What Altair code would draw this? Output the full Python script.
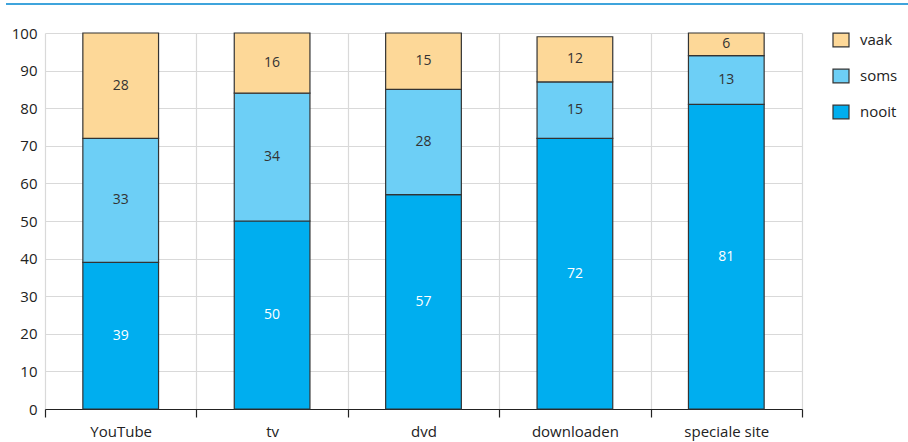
import altair as alt
import pandas as pd

# Survey answers per channel (percentages)
channels = ["YouTube", "tv", "dvd", "downloaden", "speciale site"]
nooit = [39, 50, 57, 72, 81]
soms = [33, 34, 28, 15, 13]
vaak = [28, 16, 15, 12, 6]

answers = ["nooit", "soms", "vaak"]
legend_order = ["vaak", "soms", "nooit"]
colors = {"nooit": "#00AEEF", "soms": "#6DCFF6", "vaak": "#FDD898"}
text_colors = {"nooit": "#ffffff", "soms": "#333333", "vaak": "#333333"}

rows = []
for i, ch in enumerate(channels):
    for k, (ans, vals) in enumerate(zip(answers, [nooit, soms, vaak])):
        rows.append({"kanaal": ch, "antwoord": ans, "waarde": vals[i], "volgorde": k,
                     "tekstkleur": text_colors[ans]})
df = pd.DataFrame(rows)

FONT = "Open Sans"

x_enc = alt.X("kanaal:N", sort=channels, title=None,
              scale=alt.Scale(paddingInner=0, paddingOuter=0),
              axis=alt.Axis(tickBand="extent", grid=True, gridColor="#d9d9d9", gridWidth=1.2,
                            domainColor="#222222", domainWidth=1.2, tickColor="#222222",
                            tickWidth=1.2, tickSize=8, labelAngle=0, labelFontSize=15,
                            labelFont=FONT, labelColor="#222222", labelPadding=7))

y_axis = alt.Axis(values=list(range(0, 101, 10)), grid=True, gridColor="#d9d9d9",
                  gridWidth=1.2, domain=False, ticks=False, labelFontSize=15,
                  labelFont=FONT, labelColor="#222222", labelPadding=8,
                  labelOverlap=False)

base = alt.Chart(df).transform_stack(
    stack="waarde", groupby=["kanaal"], as_=["y0", "y1"],
    sort=[alt.SortField("volgorde", order="ascending")]
).transform_calculate(mid="(datum.y0 + datum.y1) / 2")

bars = base.mark_bar(stroke="#333333", strokeWidth=1.2, width={"band": 0.5}).encode(
    x=x_enc,
    y=alt.Y("y0:Q", title=None, scale=alt.Scale(domain=[0, 100], nice=False), axis=y_axis),
    y2="y1:Q",
    fill=alt.Color("antwoord:N",
                   scale=alt.Scale(domain=legend_order,
                                   range=[colors[a] for a in legend_order]),
                   legend=alt.Legend(title=None, orient="none", legendX=787, legendY=-2,
                                     symbolType="M-1,-0.85H1V0.85H-1Z", symbolSize=256,
                                     symbolStrokeColor="#333333", symbolStrokeWidth=1.2,
                                     symbolOpacity=1, labelFontSize=15, labelFont=FONT,
                                     labelColor="#222222", labelOffset=10, rowPadding=16)),
)

labels = base.mark_text(font=FONT, fontSize=14).encode(
    x=alt.X("kanaal:N", sort=channels),
    y=alt.Y("mid:Q", axis=y_axis),
    text="waarde:Q",
    color=alt.Color("tekstkleur:N", scale=None),
)

top_line = alt.Chart(pd.DataFrame({"a": [0]})).mark_rule(
    color="#3FA4DC", strokeWidth=2).encode(
    x=alt.value(-39), x2=alt.value(863), y=alt.value(-29))

chart = alt.layer(bars, labels, top_line).properties(
    width=757, height=376,
    autosize=alt.AutoSizeParams(type="none"),
    padding={"left": 45, "top": 33, "right": 106, "bottom": 33},
).configure_view(stroke=None).configure_axis(labelFont=FONT)

chart.save("out.html", embed_options={"renderer": "svg", "actions": False})
